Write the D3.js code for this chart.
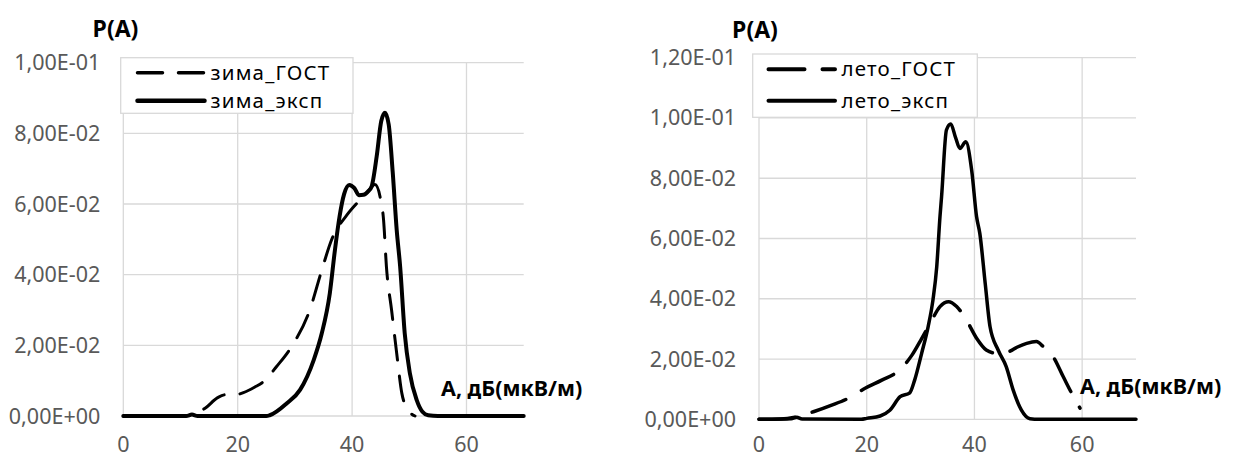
<!DOCTYPE html>
<html>
<head>
  <meta charset="utf-8" />
  <title>P(A)</title>
  <style>
    body { margin: 0; background: #ffffff; }
    text { font-family: 'Noto Sans', 'Open Sans', sans-serif; }
    .tick-label { fill: #595959; font-size: 21.5px; }
    .legend-label { fill: #000; font-size: 20.5px; letter-spacing: 1.2px; }
    .title { font-weight: bold; font-size: 21.5px; fill: #000; }
    .ptitle { font-weight: bold; font-size: 23px; fill: #000; }
  </style>
  <script src="https://cdn.jsdelivr.net/npm/d3@7"></script>
</head>
<body>
<div id="chart"></div>
<script>
// ---- data ----
var xTicks = [0, 20, 40, 60];
var winterYTicks = [0, 0.02, 0.04, 0.06, 0.08, 0.1];
var summerYTicks = [0, 0.02, 0.04, 0.06, 0.08, 0.1, 0.12];

var winterNames = ["зима_ГОСТ", "зима_эксп"];
var summerNames = ["лето_ГОСТ", "лето_эксп"];

// [A, P(A)]
var winterGost = [[0,0],[10,0],[12,0.0003],[14.3,0.0022],[16.5,0.0052],[17.8,0.006],[19.2,0.0059],[21,0.0066],
  [23,0.0082],[24.5,0.0097],[26.8,0.014],[29.4,0.0196],[32.6,0.030],[34.7,0.0413],[36.4,0.0498],
  [39.1,0.0569],[41,0.0605],[42.5,0.063],[44.0,0.0655],[44.9,0.062],[45.5,0.0555],[46.0,0.0423],
  [46.9,0.030],[47.8,0.0177],[48.7,0.0064],[49.8,0.0017],[51,0]];
var winterExp = [[0,0],[11,0],[12,0.0004],[13,0],[25,0],[25.6,0.0002],[28.6,0.0036],[30.9,0.0074],
  [33.3,0.0159],[34.7,0.0234],[36.1,0.0347],[37.0,0.047],[37.8,0.0564],[38.6,0.0628],[39.5,0.0654],
  [40.4,0.0645],[41.2,0.0625],[42.0,0.0626],[42.8,0.0636],[43.4,0.0649],[44.3,0.0735],[45.1,0.0835],
  [45.75,0.0858],[46.4,0.0825],[47.1,0.069],[47.8,0.0526],[48.4,0.0423],[49.2,0.0234],[50.1,0.0121],
  [51.3,0.0045],[52.3,0.0012],[53.3,0.0002],[55,0],[70,0]];

var summerGost = [[0,0],[4,0.0001],[7,0.0008],[10.1,0.0025],[13.5,0.0047],[16.6,0.007],[19.7,0.0103],
  [22.8,0.013],[25.9,0.0161],[28.4,0.0213],[30.2,0.0268],[31.8,0.0319],[33.6,0.0374],[35.2,0.039],
  [36.7,0.0374],[38.5,0.033],[40.4,0.0269],[42.2,0.023],[44.1,0.0219],[46.3,0.0224],[48,0.024],
  [49.7,0.0252],[51.5,0.0258],[52.8,0.0241],[54.6,0.0208],[56.5,0.0141],[58.4,0.0075],[59.6,0.0037]];
var summerExp = [[0,0],[6,0.0002],[7,0.0007],[8,0.0001],[19,0],[20,0.0003],[22.5,0.0011],[24.3,0.003],
  [26.2,0.0075],[28,0.0088],[28.9,0.013],[30.2,0.0219],[31.4,0.0307],[32.3,0.0396],[33,0.0506],
  [33.6,0.0672],[33.9,0.0739],[34.8,0.096],[35.6,0.098],[36.5,0.0935],[37.3,0.0899],[38.4,0.0921],
  [39.5,0.0825],[40.4,0.0672],[41,0.0617],[42,0.0451],[42.9,0.0307],[44.4,0.023],[45.9,0.0175],
  [47.2,0.0097],[48.7,0.0031],[50.3,0.0002],[52,0],[70,0]];

var svg = d3.select("#chart").append("svg")
  .attr("width", 1239).attr("height", 459);

function fmt(v) {
  if (v === 0) return "0,00E+00";
  var s = v.toExponential(2).split("e");
  var e = +s[1];
  return s[0].replace(".", ",") + "E" + (e < 0 ? "-" : "+") + (Math.abs(e) < 10 ? "0" : "") + Math.abs(e);
}

function drawChart(cfg) {
  var g = svg.append("g");
  var x = d3.scaleLinear().domain([0, 70]).range([cfg.left, cfg.right]);
  var y = d3.scaleLinear().domain([0, cfg.yMax]).range([cfg.bottom, cfg.top]);

  // gridlines
  g.selectAll(".hgrid").data(cfg.yTicks).enter().append("line")
    .attr("x1", cfg.left).attr("x2", cfg.right)
    .attr("y1", function (d) { return y(d); }).attr("y2", function (d) { return y(d); })
    .attr("stroke", "#d9d9d9").attr("stroke-width", 1.3);
  g.selectAll(".vgrid").data(xTicks).enter().append("line")
    .attr("x1", function (d) { return x(d); }).attr("x2", function (d) { return x(d); })
    .attr("y1", cfg.top).attr("y2", cfg.bottom)
    .attr("stroke", "#d9d9d9").attr("stroke-width", 1.3);

  // tick labels
  g.selectAll(".ylab").data(cfg.yTicks).enter().append("text")
    .attr("class", "tick-label")
    .attr("x", cfg.left - 23).attr("y", function (d) { return y(d); })
    .attr("dy", "0.35em").attr("text-anchor", "end")
    .text(fmt);
  g.selectAll(".xlab").data(xTicks).enter().append("text")
    .attr("class", "tick-label")
    .attr("x", function (d) { return x(d); }).attr("y", 444)
    .attr("dy", "0.35em").attr("text-anchor", "middle")
    .text(function (d) { return d; });

  var line = d3.line()
    .x(function (d) { return x(d[0]); })
    .y(function (d) { return y(d[1]); })
    .curve(d3.curveMonotoneX);

  g.append("path").datum(cfg.gost).attr("d", line)
    .attr("fill", "none").attr("stroke", "#000").attr("stroke-width", cfg.dashWidth)
    .attr("stroke-linecap", "round").attr("stroke-dasharray", cfg.dash);
  g.append("path").datum(cfg.exp).attr("d", line)
    .attr("fill", "none").attr("stroke", "#000").attr("stroke-width", cfg.solidWidth)
    .attr("stroke-linejoin", "round").attr("stroke-linecap", "round");

  // legend
  var lg = g.append("g");
  lg.append("rect")
    .attr("x", cfg.legend.x).attr("y", cfg.legend.y)
    .attr("width", cfg.legend.w).attr("height", cfg.legend.h)
    .attr("fill", "#fff").attr("stroke", "#d9d9d9").attr("stroke-width", 1.3);
  cfg.names.forEach(function (name, i) {
    var ly = cfg.legend.rows[i];
    lg.append("line")
      .attr("x1", cfg.legend.x1).attr("x2", cfg.legend.x2)
      .attr("y1", ly).attr("y2", ly)
      .attr("stroke", "#000").attr("stroke-linecap", "round")
      .attr("stroke-width", i === 0 ? cfg.dashWidth + 0.5 : cfg.solidWidth + 0.5)
      .attr("stroke-dasharray", i === 0 ? cfg.dash : null);
    lg.append("text").attr("class", "legend-label")
      .attr("x", cfg.legend.tx).attr("y", ly).attr("dy", "0.35em")
      .text(name);
  });

  // axis titles
  g.append("text").attr("class", "ptitle")
    .attr("x", cfg.pTitle[0]).attr("y", cfg.pTitle[1]).attr("dy", "0.35em")
    .attr("text-anchor", "middle").text("P(A)");
  g.append("text").attr("class", "title")
    .attr("x", cfg.aTitle[0]).attr("y", cfg.aTitle[1]).attr("dy", "0.35em")
    .text("A, дБ(мкВ/м)");
}

drawChart({
  left: 123.3, right: 523.7, top: 62.7, bottom: 416, yMax: 0.1,
  yTicks: winterYTicks, gost: winterGost, exp: winterExp, names: winterNames,
  dash: "25,16", dashWidth: 3, solidWidth: 4,
  legend: { x: 120.7, y: 57.7, w: 232.3, h: 55.6, rows: [72.7, 100.7], x1: 137.5, x2: 204.5, tx: 210.5 },
  pTitle: [115.5, 29], aTitle: [441, 388]
});

drawChart({
  left: 759, right: 1136, top: 57.7, bottom: 419.3, yMax: 0.12,
  yTicks: summerYTicks, gost: summerGost, exp: summerExp, names: summerNames,
  dash: "36,18", dashWidth: 3.5, solidWidth: 3.5,
  legend: { x: 752.7, y: 54, w: 224.6, h: 63.3, rows: [69.3, 100.7], x1: 768.5, x2: 835, tx: 841.5 },
  pTitle: [755, 30], aTitle: [1080, 386]
});
</script>
</body>
</html>
